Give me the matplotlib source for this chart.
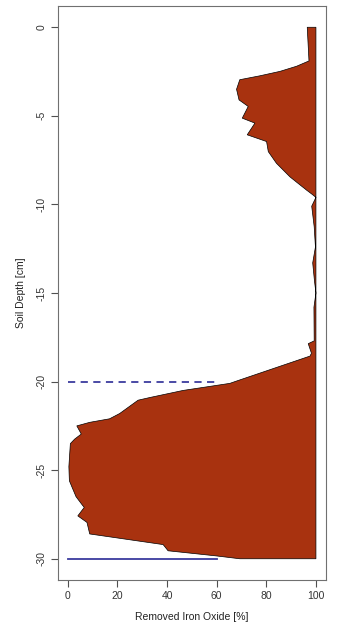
import matplotlib
matplotlib.use("Agg")
import matplotlib.pyplot as plt

plt.rcParams['font.family'] = ['Liberation Sans', 'DejaVu Sans']

# Profile of removed iron oxide (%) vs soil depth (cm)
depth = [0, -1.9, -2.2, -2.49, -2.74, -2.96, -3.5, -4.1, -4.47, -5.13, -5.41,
         -6.07, -6.45, -7.02, -7.68, -8.06, -8.44, -8.81, -9.2, -9.4, -9.6,
         -10.1, -11.26, -12.4, -13.3, -14.3, -15.0, -15.8, -17.7, -17.86,
         -18.4, -18.56, -19.94, -20.1, -20.5, -20.9, -21.05, -21.8, -22.1,
         -22.3, -22.5, -22.96, -23.25, -23.5, -24.8, -25.6, -26.07, -26.5,
         -27.0, -27.1, -27.58, -27.95, -28.6, -29.2, -29.55, -29.84, -30.0]
removed = [96.5, 97.2, 92.2, 85.5, 77.4, 69.3, 68.0, 69.0, 72.7, 70.3, 75.4,
           72.3, 80.1, 80.8, 84.1, 86.8, 89.5, 92.8, 96.3, 98.2, 100,
           98.3, 99.3, 99.8, 98.7, 99.4, 100, 99.2, 99.3, 96.9,
           98.2, 97.6, 68.6, 65.3, 46.4, 33.0, 28.3, 20.9, 16.8,
           8.8, 3.6, 5.4, 2.7, 1.0, 0.4, 0.6, 2.0, 3.3,
           6.0, 6.6, 4.0, 7.7, 8.8, 38.4, 40.4, 59.9, 69.3]

# reference lines
ref_depth = [-20, -30]
ref_extent = [60, 60]

fig = plt.figure(figsize=(3.43, 6.39), dpi=100)
ax = fig.add_axes([0.169, 0.0923, 0.781, 0.8983])

# polygon closed against the 100 % edge
xs = removed + [100, 100]
ys = depth + [-30, 0]
ax.fill(xs, ys, facecolor="#A8320F", edgecolor="black", linewidth=0.5)

blue = "#3B3B9E"
ax.plot([0, ref_extent[0]], [ref_depth[0]] * 2, color=blue, lw=1.3,
        dashes=(4, 3))
ax.plot([0, ref_extent[1]], [ref_depth[1]] * 2, color=blue, lw=1.3)

ax.set_xlim(-4, 104)
ax.set_ylim(-31.2, 1.2)
ax.set_xticks([0, 20, 40, 60, 80, 100])
ax.set_yticks([0, -5, -10, -15, -20, -25, -30])
ax.set_yticklabels(["0", "-5", "-10", "-15", "-20", "-25", "-30"],
                   rotation=90, va="center")

for s in ax.spines.values():
    s.set_color("#707070")
    s.set_linewidth(0.8)
ax.tick_params(colors="#505050", labelcolor="#333333", labelsize=7.5,
               length=5, width=0.8, pad=3)

ax.set_xlabel("Removed Iron Oxide [%]", fontsize=7.5, color="#222222",
              labelpad=8)
ax.set_ylabel("Soil Depth [cm]", fontsize=7.5, color="#222222", labelpad=8)

fig.savefig("out.png", dpi=100)
